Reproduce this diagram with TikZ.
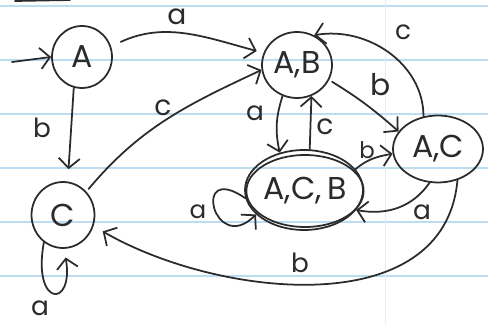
\documentclass[tikz,border=0pt]{standalone}
\usepackage{fontspec}
\setmainfont{Poppins}
\usetikzlibrary{arrows.meta,shapes.geometric}
\definecolor{ink}{HTML}{2B2B2B}
\definecolor{ruleline}{HTML}{BCDCF2}
\begin{document}
\begin{tikzpicture}[x=0.02cm,y=-0.02cm,
  st/.style={ellipse,draw=ink,line width=1pt,inner sep=0pt,font=\fontsize{18}{20}\selectfont,text=ink},
  tr/.style={draw=ink,line width=1pt,line cap=round,-{Straight Barb[length=5.5pt,width=12pt,line width=1pt]}},
  lbl/.style={font=\fontsize{15}{17}\selectfont,text=ink,inner sep=0pt}]
\fill[white] (0,0) rectangle (488,324);
\useasboundingbox (0,0) rectangle (488,324);
\foreach \y in {6,60,114,168,222,276} \draw[ruleline,line width=0.6pt] (0,\y) -- (488,\y);
\draw[ruleline!50,line width=0.5pt] (385,0) -- (385,324);
\draw[ink,line width=1pt,line cap=round] (15,1) -- (70,0);
% states
\node[st,minimum width=1.2cm,minimum height=1.24cm] (A) at (82,57) {A};
\node[st,minimum width=1.4cm,minimum height=1.32cm] (AB) at (297,65) {A,B};
\node[st,minimum width=1.26cm,minimum height=1.32cm] (C) at (63,215) {C};
\node[st,minimum width=1.8cm,minimum height=1.34cm] (AC) at (438,149) {A,C};
\node[st,minimum width=2.36cm,minimum height=1.6cm] (ACB) at (304,190) {};
\node[st,minimum width=1.96cm,minimum height=1.44cm] (ACBi) at (305,191) {A,C,\,B};
\coordinate (start) at (12,62);
% transitions
\draw[tr] (start) -- (A.180);
\draw[tr,shorten <=6pt,shorten >=4pt] (A.20) to[out=25,in=165] (AB.160);
\draw[tr,shorten >=7pt] (A.255) -- (C.82);
\draw[tr,shorten <=2pt] (C.45) to[out=50,in=205] (AB.188);
\draw[tr] (AB.245) to[bend right=15] (ACB.123);
\draw[tr] (ACB.82) -- (AB.295);
\draw[tr,shorten <=2pt] (AB.335) to[bend left=5] (AC.156);
\draw[tr] (AC.114) to[out=90,in=10] (AB.60);
\draw[tr] (ACB.22) to[out=40,in=190] (AC.186);
\draw[tr] (AC.256) to[out=235,in=-10] (ACB.339);
\draw[tr,shorten >=6pt] (AC.302) to[out=265,in=-30] (C.340);
\draw[tr] (ACB.188) .. controls +(-55,-38) and +(-42,42) .. (ACB.207);
\draw[tr,shorten >=5pt] (C.235) .. controls +(-12,65) and +(10,60) .. (C.272);
% labels
\node[lbl,font=\fontsize{16}{18}\selectfont] (la1) at (177,17) {a};
\node[lbl] (lb1) at (42,128) {b};
\node[lbl,font=\fontsize{16}{18}\selectfont] (lc1) at (163,108) {c};
\node[lbl] (la2) at (255,113) {a};
\node[lbl,font=\fontsize{16}{18}\selectfont] (lc2) at (325,127) {c};
\node[lbl,font=\fontsize{17}{19}\selectfont] (lb2) at (381,85) {b};
\node[lbl] (lc3) at (403,32) {c};
\node[lbl,font=\fontsize{13}{15}\selectfont] (lb3) at (367,150) {b};
\node[lbl] (la3) at (422,212) {a};
\node[lbl] (lb4) at (300,263) {b};
\node[lbl,font=\fontsize{14}{16}\selectfont] (la4) at (198,212) {a};
\node[lbl] (la5) at (40,308) {a};
\end{tikzpicture}
\end{document}
